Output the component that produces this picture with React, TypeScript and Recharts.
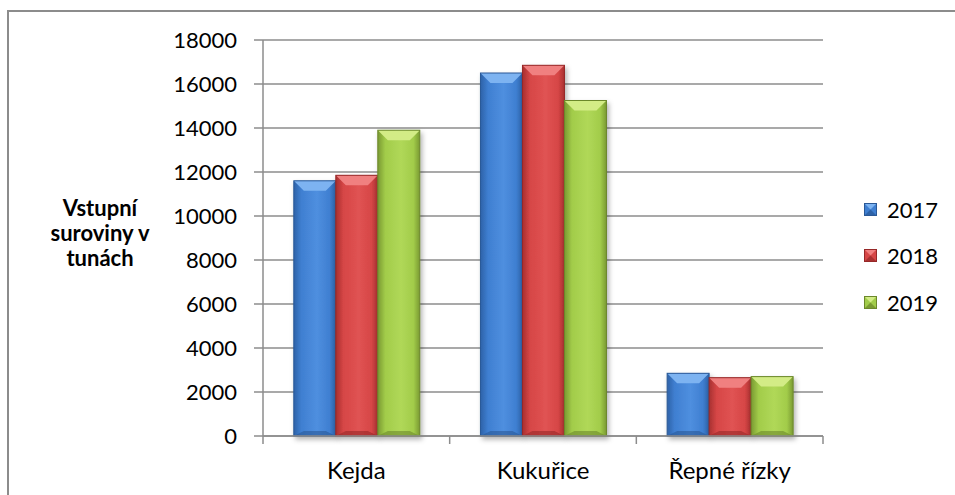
import { BarChart, Bar, XAxis, YAxis, CartesianGrid, Label } from 'recharts';

const categories = ['Kejda', 'Kukuřice', 'Řepné řízky'];
const values2017 = [11600, 16500, 2850];
const values2018 = [11850, 16850, 2650];
const values2019 = [13900, 15250, 2700];
const yTicks = [0, 2000, 4000, 6000, 8000, 10000, 12000, 14000, 16000, 18000];
const seriesNames = ['2017', '2018', '2019'];
const titleLines = ['Vstupní', 'suroviny v', 'tunách'];

const data = categories.map((name, i) => ({
  name,
  y2017: values2017[i],
  y2018: values2018[i],
  y2019: values2019[i],
}));

const palette: Record<string, { main: string; light: string; dark: string; top: string; bottom: string }> = {
  y2017: { main: '#3f7fd1', light: '#4f8fdf', dark: '#2d62a8', top: '#7db3f1', bottom: '#2a5896' },
  y2018: { main: '#d64646', light: '#e05353', dark: '#a83030', top: '#f08080', bottom: '#962828' },
  y2019: { main: '#a2cc4a', light: '#b0d858', dark: '#7a9a32', top: '#d3ec86', bottom: '#6c882b' },
};

const font = 'Lato, "Open Sans", sans-serif';
const gray = '#8c8c8c';

const Gradients = () => (
  <defs>
    {Object.keys(palette).map((k) => (
      <linearGradient key={k} id={'g-' + k} x1="0" y1="0" x2="1" y2="0">
        <stop offset="0%" stopColor={palette[k].dark} />
        <stop offset="18%" stopColor={palette[k].main} />
        <stop offset="55%" stopColor={palette[k].light} />
        <stop offset="85%" stopColor={palette[k].main} />
        <stop offset="100%" stopColor={palette[k].dark} />
      </linearGradient>
    ))}
    <filter id="shadow" x="-20%" y="-5%" width="150%" height="120%">
      <feDropShadow dx="2" dy="3" stdDeviation="2.5" floodColor="#000" floodOpacity="0.3" />
    </filter>
  </defs>
);

const bevelBar = (key: string) => (props: any) => {
  const { x, y, width: w, height: h } = props;
  if (!h || h <= 0) return <g />;
  const c = palette[key];
  const b = Math.min(10, w / 4, h / 3);
  return (
    <g filter="url(#shadow)">
      <rect x={x} y={y} width={w} height={h} fill={`url(#g-${key})`} />
      <polygon points={`${x},${y} ${x + w},${y} ${x + w - b},${y + b} ${x + b},${y + b}`} fill={c.top} />
      <polygon points={`${x},${y + h} ${x + w},${y + h} ${x + w - b},${y + h - b / 2} ${x + b},${y + h - b / 2}`} fill={c.bottom} opacity={0.6} />
      <rect x={x} y={y} width={w} height={h} fill="none" stroke={c.bottom} strokeWidth={1} />
    </g>
  );
};

// category label plus tick marks on the band edges (Excel style)
const CategoryTick = (props: any) => {
  const { x, y, payload, index } = props;
  const half = payload.offset || 0;
  const axisY = y - 26;
  const last = index === categories.length - 1;
  return (
    <g>
      <line x1={x - half} x2={x - half} y1={axisY} y2={axisY + 8} stroke={gray} strokeWidth={1.5} />
      {last && <line x1={x + half} x2={x + half} y1={axisY} y2={axisY + 8} stroke={gray} strokeWidth={1.5} />}
      <text x={x} y={y} dy="0.71em" textAnchor="middle" fontFamily={font} fontSize={24} fill="#000">
        {payload.value}
      </text>
    </g>
  );
};

// legend sits outside the chart so it doesn't shrink the plot
const LegendBox = () => (
  <div style={{ position: 'absolute', left: 864, top: 186, fontFamily: font, fontSize: 22, color: '#000' }}>
    {seriesNames.map((label) => {
      const c = palette['y' + label];
      return (
        <div key={label} style={{ display: 'flex', alignItems: 'center', height: 46.5 }}>
          <svg width={13} height={13} style={{ marginRight: 10 }}>
            <rect x={0} y={0} width={13} height={13} fill={c.main} />
            <polygon points="0,0 13,0 6.5,6.5" fill={c.top} />
            <polygon points="0,13 13,13 6.5,6.5" fill={c.dark} />
            <rect x={0.5} y={0.5} width={12} height={12} fill="none" stroke={c.bottom} />
          </svg>
          <span>{label}</span>
        </div>
      );
    })}
  </div>
);

const YTitle = (props: any) => {
  const { viewBox } = props;
  const cy = viewBox.y + viewBox.height / 2;
  return (
    <text x={100} y={cy - 22} textAnchor="middle" fontFamily={font} fontWeight="bold" fontSize={22} fill="#000">
      {titleLines.map((t, i) => (
        <tspan key={t} x={100} dy={i === 0 ? 0 : 25}>
          {t}
        </tspan>
      ))}
    </text>
  );
};

export default function App() {
  return (
    <div style={{ position: 'absolute', left: 0, top: 0, width: 955, height: 495, overflow: 'hidden', background: '#fff' }}>
      <div style={{ position: 'absolute', left: 7, top: 10, width: 1100, height: 700, border: `2px solid ${gray}`, boxSizing: 'border-box' }} />
      <div style={{ position: 'absolute', left: 0, top: 0 }}>
        <BarChart
          width={955}
          height={495}
          data={data}
          margin={{ top: 40, right: 132, bottom: 9, left: 0 }}
          barCategoryGap="16.5%"
          barGap={0}
        >
          <Gradients />
          <CartesianGrid vertical={false} stroke={gray} strokeWidth={1.5} />
          <XAxis
            dataKey="name"
            height={50}
            interval={0}
            axisLine={{ stroke: gray, strokeWidth: 1.5 }}
            tickLine={false}
            tickSize={0}
            tickMargin={26}
            tick={<CategoryTick />}
          />
          <YAxis
            width={263}
            domain={[0, 18000]}
            ticks={yTicks}
            interval={0}
            axisLine={{ stroke: gray, strokeWidth: 1.5 }}
            tickLine={{ stroke: gray, strokeWidth: 1.5 }}
            tickSize={9}
            tickMargin={17}
            tick={{ fontFamily: font, fontSize: 22, fill: '#000' }}
          >
            <Label content={<YTitle />} />
          </YAxis>
          <Bar dataKey="y2017" fill={palette.y2017.main} shape={bevelBar('y2017')} isAnimationActive={false} />
          <Bar dataKey="y2018" fill={palette.y2018.main} shape={bevelBar('y2018')} isAnimationActive={false} />
          <Bar dataKey="y2019" fill={palette.y2019.main} shape={bevelBar('y2019')} isAnimationActive={false} />
        </BarChart>
      </div>
      <LegendBox />
    </div>
  );
}
